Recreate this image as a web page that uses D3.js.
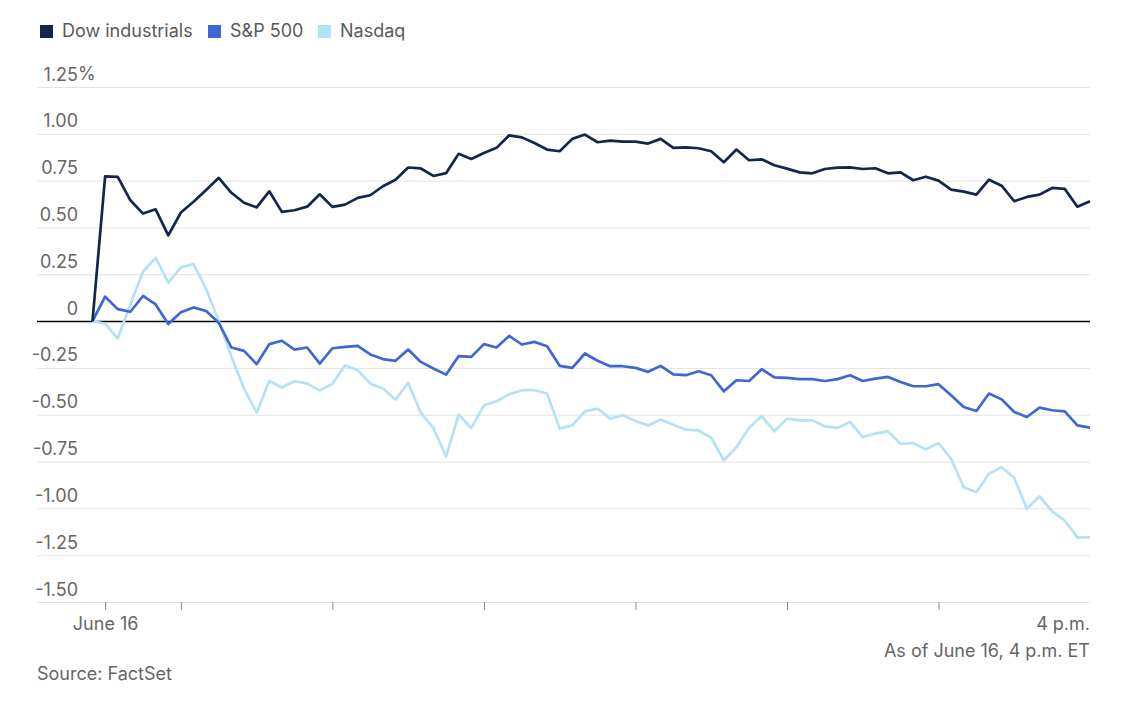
<!DOCTYPE html>
<html>
<head>
<meta charset="utf-8">
<script src="https://cdn.jsdelivr.net/npm/d3@7"></script>
<style>
  body { margin: 0; background: #fff; }
  text { font-family: Inter, "Noto Sans", sans-serif; fill: #666; }
</style>
</head>
<body>
<script>
// series names and colours
var seriesNames = ["Dow industrials", "S&P 500", "Nasdaq"];
var seriesColors = ["#13264d", "#3f67d4", "#b5e1f7"];

// 5-minute readings, first one is the previous close (0%)
var dow = [0, 0.773, 0.77, 0.645, 0.574, 0.597, 0.458, 0.58, 0.637, 0.70, 0.765,
  0.685, 0.632, 0.607, 0.693, 0.583, 0.592, 0.611, 0.677, 0.61, 0.622,
  0.658, 0.672, 0.72, 0.755, 0.82, 0.815, 0.775, 0.79, 0.893, 0.866,
  0.898, 0.925, 0.992, 0.981, 0.951, 0.916, 0.907, 0.973, 0.996, 0.955,
  0.964, 0.958, 0.958, 0.948, 0.973, 0.925, 0.928, 0.923, 0.907, 0.848,
  0.916, 0.859, 0.864, 0.832, 0.814, 0.794, 0.789, 0.812, 0.819, 0.821,
  0.812, 0.816, 0.789, 0.794, 0.752, 0.771, 0.75, 0.702, 0.691, 0.675,
  0.755, 0.723, 0.64, 0.663, 0.675, 0.711, 0.706, 0.611, 0.64];

var sp500 = [0, 0.13, 0.064, 0.05, 0.134, 0.089, -0.016, 0.047, 0.073, 0.054, -0.009,
  -0.141, -0.159, -0.23, -0.123, -0.105, -0.152, -0.141, -0.227, -0.145, -0.138,
  -0.132, -0.178, -0.203, -0.212, -0.152, -0.218, -0.253, -0.286, -0.187, -0.191,
  -0.123, -0.141, -0.079, -0.125, -0.111, -0.134, -0.239, -0.25, -0.173, -0.212,
  -0.241, -0.241, -0.25, -0.271, -0.239, -0.285, -0.289, -0.268, -0.289, -0.375,
  -0.316, -0.32, -0.257, -0.301, -0.303, -0.31, -0.31, -0.32, -0.31, -0.289,
  -0.32, -0.307, -0.298, -0.325, -0.348, -0.348, -0.337, -0.396, -0.459, -0.48,
  -0.387, -0.418, -0.485, -0.512, -0.462, -0.476, -0.482, -0.557, -0.569];

var nasdaq = [0, -0.014, -0.093, 0.09, 0.264, 0.338, 0.205, 0.287, 0.304, 0.172, 0.0,
  -0.19, -0.36, -0.489, -0.32, -0.355, -0.32, -0.334, -0.37, -0.335, -0.236,
  -0.262, -0.334, -0.36, -0.419, -0.33, -0.489, -0.571, -0.723, -0.5, -0.571,
  -0.45, -0.428, -0.391, -0.369, -0.369, -0.387, -0.574, -0.557, -0.482, -0.467,
  -0.521, -0.503, -0.534, -0.557, -0.526, -0.553, -0.58, -0.584, -0.623, -0.744,
  -0.673, -0.569, -0.507, -0.589, -0.521, -0.53, -0.53, -0.562, -0.569, -0.539,
  -0.619, -0.601, -0.589, -0.655, -0.651, -0.685, -0.651, -0.735, -0.887, -0.914,
  -0.815, -0.78, -0.837, -1.003, -0.935, -1.016, -1.065, -1.155, -1.155];

// time stamps: 9:25 then every 5 minutes to 4 p.m.
var startTime = new Date(2022, 5, 16, 9, 25);
var endTime = new Date(2022, 5, 16, 16, 0);
var times = d3.timeMinutes(startTime, d3.timeMinute.offset(endTime, 1), 5);

var yTickValues = [1.25, 1, 0.75, 0.5, 0.25, 0, -0.25, -0.5, -0.75, -1, -1.25, -1.5];
var xTickValues = [new Date(2022, 5, 16, 9, 30), new Date(2022, 5, 16, 10), new Date(2022, 5, 16, 11),
  new Date(2022, 5, 16, 12), new Date(2022, 5, 16, 13), new Date(2022, 5, 16, 14), new Date(2022, 5, 16, 15)];
var xTickLabels = ["June 16", "", "", "", "", "", ""];

//layout
var gridLeft = 37, gridRight = 1090;
var fontSize = "18px";
var svg = d3.select("body").append("svg")
  .attr("width", 1144)
  .attr("height", 703);

var x = d3.scaleTime().domain([startTime, endTime]).range([92.5, 1090]);
var y = d3.scaleLinear().domain([-1.5, 1.25]).range([602, 87]);

//legend
var legend = svg.append("g").selectAll("g")
  .data(seriesNames)
  .enter().append("g");
var legendX = [40, 208, 318];
legend.append("rect")
  .attr("x", function(d, i) { return legendX[i]; })
  .attr("y", 25)
  .attr("width", 13)
  .attr("height", 13)
  .attr("fill", function(d, i) { return seriesColors[i]; });
legend.append("text")
  .attr("x", function(d, i) { return legendX[i] + 22; })
  .attr("y", 37)
  .style("font-size", fontSize)
  .style("fill", "#5a5a5a")
  .text(function(d) { return d; });

//y gridlines + labels
var yAxis = svg.append("g")
  .attr("transform", "translate(" + gridLeft + ",0)")
  .call(d3.axisRight(y)
    .tickValues(yTickValues)
    .tickSize(gridRight - gridLeft)
    .tickFormat(function(d) { return d === 0 ? "0" : d3.format(".2f")(d).replace("−", "-"); }));
yAxis.select(".domain").remove();
yAxis.selectAll(".tick line")
  .attr("stroke", function(d) { return d === 0 ? "#000" : "#e3e3e3"; })
  .attr("stroke-width", function(d) { return d === 0 ? 1.5 : 1; });
yAxis.selectAll(".tick text")
  .attr("x", 41)
  .attr("dy", -7)
  .attr("text-anchor", "end")
  .style("font-size", fontSize)
  .style("fill", "#666");
yAxis.append("text")
  .attr("x", 41)
  .attr("y", y(1.25))
  .attr("dy", -7)
  .style("font-size", fontSize)
  .text("%");
// zero line goes on top of grid
yAxis.selectAll(".tick").filter(function(d) { return d === 0; }).raise();

//x axis ticks along the bottom gridline
var xAxis = svg.append("g")
  .attr("transform", "translate(0," + y(-1.5) + ")")
  .call(d3.axisBottom(x)
    .tickValues(xTickValues)
    .tickSize(8)
    .tickFormat(function(d, i) { return xTickLabels[i]; }));
xAxis.select(".domain").remove();
xAxis.selectAll(".tick line").attr("stroke", "#888");
xAxis.selectAll(".tick text")
  .attr("y", 15)
  .style("font-size", fontSize)
  .style("fill", "#666");
xAxis.append("text")
  .attr("x", x(endTime))
  .attr("y", 28)
  .attr("text-anchor", "end")
  .style("font-size", fontSize)
  .text("4 p.m.");

//lines, light to dark
var line = d3.line()
  .x(function(d, i) { return x(times[i]); })
  .y(function(d) { return y(d); });
var allSeries = [dow, sp500, nasdaq];
svg.append("g").selectAll("path")
  .data([2, 1, 0])
  .enter().append("path")
  .attr("d", function(k) { return line(allSeries[k]); })
  .attr("fill", "none")
  .attr("stroke", function(k) { return seriesColors[k]; })
  .attr("stroke-width", 2.7)
  .attr("stroke-linejoin", "round");

//notes
svg.append("text")
  .attr("x", gridRight)
  .attr("y", 657)
  .attr("text-anchor", "end")
  .style("font-size", fontSize)
  .text("As of June 16, 4 p.m. ET");
svg.append("text")
  .attr("x", 37)
  .attr("y", 680)
  .style("font-size", fontSize)
  .text("Source: FactSet");
</script>
</body>
</html>
